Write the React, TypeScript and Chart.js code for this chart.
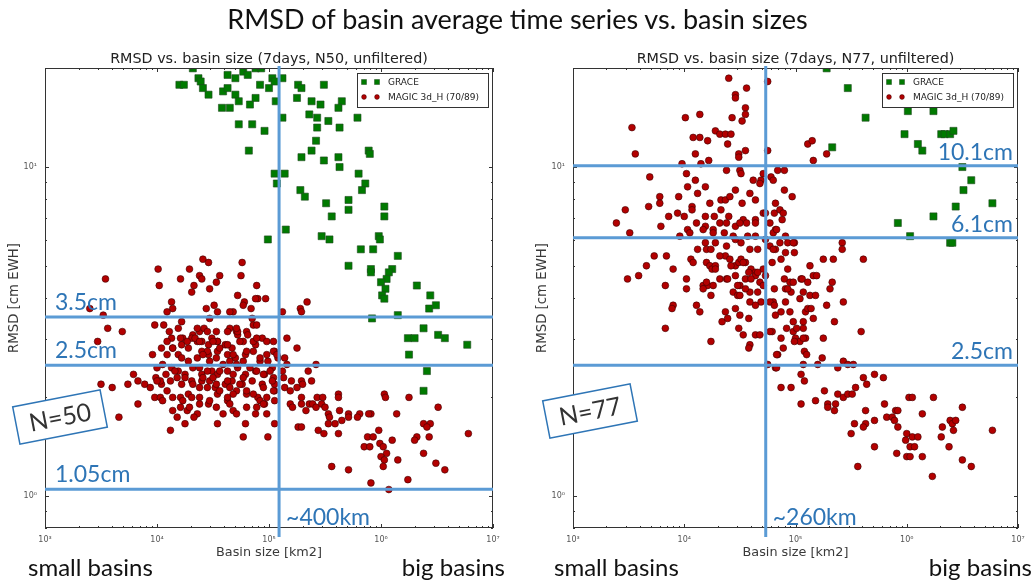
import React, { useEffect, useRef } from "react";
import { Chart, registerables } from "chart.js";

Chart.register(...registerables);

// ---------------- text ----------------
const mainTitle = "RMSD of basin average time series vs. basin sizes";
const xAxisTitle = "Basin size [km2]";
const yAxisTitle = "RMSD [cm EWH]";
const legendLabels = ["GRACE", "MAGIC 3d_H (70/89)"];
const bottomLabels = ["small basins", "big basins"];

// ---------------- axes ----------------
const xRange = [1e3, 1e7];
const yRange = [0.8, 20];

// ---------------- left panel (N50) ----------------
const leftTitle = "RMSD vs. basin size (7days, N50, unfiltered)";
const leftThresholds = [3.5, 2.5, 1.05];
const leftThresholdLabels = ["3.5cm", "2.5cm", "1.05cm"];
const leftSizeLine = 1.23e5;
const leftSizeLabel = "~400km";
const leftNLabel = "N=50";

// points as [log10(basin size km2), log10(RMSD cm)]
const leftGraceLog = [
  [4.20,1.25],[4.24,1.25],[4.37,1.27],[4.39,1.26],[4.41,1.24],[4.46,1.22],[4.63,1.28],[4.70,1.27],[4.77,1.29],[4.81,1.28],
  [4.88,1.30],[4.93,1.30],[4.59,1.23],[4.63,1.24],[4.70,1.22],[4.73,1.20],[4.58,1.18],[4.65,1.18],[4.73,1.13],[4.85,1.13],
  [4.83,1.19],[4.88,1.21],[4.92,1.25],[5.00,1.24],[5.03,1.27],[5.05,1.26],[5.12,1.27],[5.06,1.20],[4.96,1.11],[5.12,1.15],
  [4.82,1.05],[5.05,0.98],[5.14,0.98],[5.07,0.95],[5.15,0.81],[4.99,0.78],[5.26,1.25],[5.29,1.24],[5.49,1.25],[5.25,1.21],
  [5.38,1.20],[5.46,1.19],[5.65,1.20],[5.62,1.18],[5.36,1.16],[5.43,1.15],[5.53,1.14],[5.43,1.12],[5.63,1.12],[5.42,1.08],
  [5.38,1.05],[5.29,1.03],[5.49,1.02],[5.62,1.03],[5.63,1.00],[5.28,0.93],[5.32,0.91],[5.51,0.89],[5.71,0.90],[5.71,0.87],
  [5.56,0.85],[5.47,0.79],[5.54,0.78],[5.71,0.70],[5.79,1.15],[5.89,1.05],[5.90,1.04],[5.80,0.98],[5.86,0.95],[5.83,0.93],
  [6.03,0.88],[6.03,0.85],[5.98,0.79],[5.99,0.78],[5.93,0.75],[5.82,0.75],[6.15,0.73],[5.91,0.69],[5.91,0.68],[6.10,0.69],
  [6.07,0.68],[6.05,0.66],[6.00,0.65],[6.04,0.63],[6.01,0.61],[6.03,0.60],[6.32,0.64],[6.44,0.61],[6.43,0.57],[6.49,0.58],
  [6.15,0.55],[5.92,0.54],[6.24,0.48],[6.30,0.48],[6.38,0.51],[6.51,0.49],[6.57,0.48],[6.25,0.43],[6.77,0.46],[6.41,0.38],
  [6.38,0.32],[4.32,1.30],[4.89,1.31],[4.68,1.31],
];

const leftMagicLog = [
  [4.41,0.72],[4.46,0.71],[4.76,0.71],[3.54,0.66],[4.01,0.69],[4.29,0.69],[4.38,0.67],[4.40,0.66],[4.56,0.67],[4.75,0.67],
  [4.21,0.66],[4.53,0.65],[4.02,0.64],[4.33,0.64],[4.31,0.62],[4.47,0.63],[4.89,0.64],[4.72,0.61],[4.90,0.60],[4.97,0.60],
  [4.88,0.60],[4.78,0.59],[4.51,0.58],[4.13,0.59],[4.14,0.57],[4.09,0.56],[4.44,0.57],[4.54,0.56],[4.47,0.54],[4.68,0.56],
  [4.65,0.56],[4.84,0.57],[4.85,0.54],[4.22,0.53],[3.40,0.57],[3.52,0.55],[3.56,0.51],[3.69,0.50],[3.47,0.47],[3.98,0.52],
  [4.06,0.52],[4.19,0.51],[4.11,0.50],[4.13,0.48],[4.23,0.48],[4.32,0.49],[4.38,0.50],[4.42,0.51],[4.49,0.48],[4.54,0.47],
  [4.65,0.51],[4.71,0.50],[4.80,0.50],[4.86,0.52],[4.89,0.52],[4.94,0.48],[3.96,0.43],[4.04,0.45],[4.09,0.47],[4.14,0.45],
  [4.22,0.46],[4.31,0.48],[4.36,0.47],[4.40,0.47],[4.46,0.46],[4.54,0.47],[4.61,0.46],[4.67,0.45],[4.72,0.49],[4.77,0.47],
  [4.81,0.49],[4.88,0.46],[5.05,0.44],[5.08,0.42],[4.99,0.41],[4.19,0.43],[4.28,0.41],[4.36,0.42],[4.40,0.44],[4.46,0.43],
  [4.54,0.44],[4.63,0.43],[4.70,0.42],[4.79,0.43],[4.86,0.44],[4.92,0.41],[4.13,0.39],[4.19,0.38],[4.25,0.37],[4.32,0.39],
  [4.40,0.37],[4.49,0.38],[4.54,0.37],[4.63,0.38],[4.72,0.39],[4.79,0.37],[4.88,0.38],[4.96,0.37],[5.04,0.36],[3.79,0.37],
  [3.83,0.35],[3.89,0.34],[3.74,0.34],[3.50,0.34],[3.60,0.33],[3.99,0.36],[4.04,0.34],[4.08,0.37],[4.18,0.36],[4.22,0.34],
  [4.31,0.35],[4.40,0.35],[4.47,0.35],[4.52,0.33],[4.61,0.34],[4.67,0.35],[4.76,0.34],[4.85,0.35],[4.94,0.34],[5.05,0.34],
  [3.98,0.30],[4.03,0.30],[4.21,0.30],[4.28,0.31],[4.38,0.30],[4.46,0.28],[4.54,0.31],[4.63,0.29],[4.71,0.32],[4.80,0.31],
  [4.90,0.30],[4.96,0.28],[5.05,0.32],[3.83,0.28],[4.14,0.26],[4.18,0.24],[4.27,0.26],[4.36,0.25],[4.25,0.22],[4.33,0.24],
  [4.54,0.22],[4.59,0.25],[4.68,0.26],[4.79,0.22],[4.88,0.25],[4.98,0.25],[5.05,0.22],[3.66,0.24],[4.12,0.20],[4.77,0.18],
  [4.99,0.18],[5.34,0.59],[4.77,0.58],[5.28,0.57],
  [5.12,0.56],[5.29,0.56],[5.16,0.48],[5.25,0.45],[5.04,0.44],[5.07,0.43],[5.14,0.42],[5.16,0.40],[5.03,0.39],[5.12,0.38],
  [5.42,0.40],[5.35,0.38],[5.13,0.36],[5.20,0.35],[5.29,0.35],[5.30,0.34],[5.38,0.35],[5.25,0.33],[5.14,0.33],[5.19,0.32],
  [5.29,0.30],[5.43,0.30],[5.48,0.30],[5.62,0.31],[5.62,0.30],[5.05,0.29],[5.19,0.28],[5.29,0.28],[5.36,0.28],[5.39,0.28],
  [5.47,0.28],[5.21,0.27],[5.33,0.26],[5.42,0.27],[5.50,0.27],[5.53,0.25],[5.63,0.26],[5.71,0.25],[5.81,0.25],[5.91,0.25],
  [5.54,0.24],[5.71,0.24],[5.79,0.24],[5.89,0.25],[5.65,0.23],[5.59,0.22],[5.53,0.22],[5.26,0.21],[5.29,0.21],[5.44,0.20],
  [5.49,0.19],[5.62,0.19],[6.03,0.31],[6.04,0.30],[6.25,0.30],[6.51,0.27],[6.14,0.25],[6.38,0.22],[6.44,0.22],[6.41,0.21],
  [6.78,0.19],[5.88,0.18],[5.93,0.18],[5.98,0.20],[6.10,0.17],[6.32,0.18],[6.43,0.18],[6.30,0.17],[5.99,0.16],[5.85,0.15],
  [5.90,0.15],[6.02,0.15],[6.05,0.13],[6.38,0.13],[6.00,0.12],[6.03,0.11],[6.15,0.11],[6.02,0.09],[6.49,0.10],[6.57,0.08],
  [5.56,0.09],[5.71,0.08],[5.91,0.04],[6.24,0.05],[6.07,0.02],
  [4.34,0.48],[4.38,0.47],[4.45,0.44],[4.50,0.47],[4.56,0.45],[4.63,0.46],[4.68,0.43],[4.72,0.50],[4.74,0.47],[4.80,0.44],
  [4.86,0.47],[4.92,0.42],[4.98,0.43],[4.38,0.39],[4.45,0.38],[4.50,0.36],[4.56,0.38],[4.63,0.35],[4.68,0.37],[4.74,0.34],
  [4.80,0.32],[4.86,0.31],[4.92,0.29],[4.98,0.30],[5.04,0.32],[4.47,0.29],[4.53,0.27],[4.65,0.28],[4.71,0.25],[4.80,0.27],
  [4.89,0.27],[4.95,0.28],[4.25,0.36],[4.16,0.38],[4.12,0.35],[4.09,0.32],[4.03,0.35],[4.28,0.45],[4.22,0.42],[4.41,0.43],
  [4.47,0.41],[4.53,0.42],[4.59,0.40],[4.65,0.41],[4.71,0.40],[4.77,0.41],[4.83,0.39],[4.89,0.38],[4.95,0.37],[5.01,0.38],
  [4.32,0.34],[4.38,0.33],[4.45,0.33],[4.56,0.32],[4.68,0.31],[4.63,0.30],[4.41,0.36],[4.53,0.34],[4.65,0.33],[4.77,0.36],
  [4.95,0.33],[5.03,0.35],[4.31,0.30],[4.23,0.29],[4.38,0.28],[4.29,0.27],[4.21,0.27],[4.14,0.30],[4.05,0.29],[4.00,0.35],
  [3.94,0.33],[4.27,0.47],[4.21,0.48],[4.14,0.45],[4.09,0.43],[4.05,0.40],[4.00,0.39],[4.36,0.51],[4.45,0.50],[4.53,0.50],
  [4.63,0.50],[4.71,0.51],[4.89,0.48],[4.98,0.47],[5.04,0.47],
];

// ---------------- right panel (N77) ----------------
const rightTitle = "RMSD vs. basin size (7days, N77, unfiltered)";
const rightThresholds = [10.1, 6.1, 2.5];
const rightThresholdLabels = ["10.1cm", "6.1cm", "2.5cm"];
const rightSizeLine = 5.4e4;
const rightSizeLabel = "~260km";
const rightNLabel = "N=77";

const rightGraceLog = [
  [5.28,1.30],[5.47,1.24],[5.63,1.15],[6.01,1.17],[6.24,1.17],[5.98,1.10],[6.10,1.07],[6.14,1.05],[5.33,1.06],[6.31,1.10],
  [6.34,1.10],[6.39,1.10],[6.42,1.11],[6.50,1.00],[6.51,0.93],[6.58,0.96],[6.77,0.89],[6.44,0.88],[6.24,0.85],[5.92,0.83],
  [6.03,0.79],[6.39,0.77],[6.41,0.77],
];

const rightMagicLog = [
  [4.40,1.27],[4.56,1.24],[4.46,1.22],[4.46,1.21],[4.55,1.18],[4.55,1.16],[4.43,1.15],[4.52,1.14],[4.01,1.15],[4.14,1.16],
  [3.53,1.12],[4.28,1.11],[4.32,1.10],[4.37,1.10],[4.42,1.10],[4.08,1.09],[4.14,1.09],[4.21,1.08],[4.39,1.07],[4.55,1.05],
  [4.49,1.04],[4.49,1.03],[4.10,1.04],[4.22,1.02],[3.56,1.04],[3.98,1.01],[4.15,1.01],[4.75,1.26],[4.75,1.05],[3.69,0.97],
  [4.38,0.99],[4.50,0.99],[4.51,0.98],[4.02,0.98],[4.84,0.99],[4.90,0.99],[4.10,0.96],[4.03,0.94],[4.71,0.98],[4.69,0.96],
  [4.68,0.95],[4.78,0.97],[4.80,0.96],[4.62,0.96],[4.19,0.94],[4.46,0.93],[4.12,0.92],[4.59,0.92],[3.78,0.91],[3.78,0.89],
  [3.95,0.91],[4.23,0.89],[4.33,0.90],[4.37,0.90],[4.41,0.91],[4.52,0.89],[4.64,0.90],[4.82,0.89],[4.90,0.93],[4.97,0.91],
  [3.47,0.87],[3.68,0.88],[4.07,0.88],[4.07,0.87],[4.19,0.85],[4.27,0.85],[4.33,0.87],[4.40,0.85],[4.53,0.84],[4.56,0.83],
  [4.64,0.84],[4.71,0.86],[4.73,0.86],[4.81,0.86],[4.86,0.87],[4.89,0.86],[3.39,0.83],[3.86,0.85],[3.94,0.86],[4.00,0.85],
  [3.79,0.82],[4.11,0.83],[4.19,0.82],[4.26,0.81],[4.32,0.83],[4.38,0.83],[4.46,0.82],[4.50,0.83],[4.64,0.83],[4.77,0.83],
  [4.82,0.81],[3.51,0.80],[4.03,0.81],[4.05,0.80],[4.17,0.81],[4.26,0.80],[4.36,0.80],[4.44,0.79],[4.57,0.79],[4.64,0.79],
  [4.73,0.78],[4.80,0.80],[4.86,0.77],[4.91,0.79],[4.93,0.77],[4.99,0.77],[3.96,0.79],[4.12,0.75],[4.20,0.75],[4.28,0.77],
  [4.38,0.76],[4.46,0.78],[4.51,0.77],[4.59,0.75],[4.66,0.75],[4.77,0.76],[4.82,0.75],[4.91,0.74],[4.99,0.74],[3.73,0.73],
  [3.84,0.73],[4.06,0.72],[4.08,0.71],[4.20,0.71],[4.23,0.70],[4.25,0.69],[4.28,0.70],[4.37,0.73],[4.41,0.72],[4.46,0.70],
  [4.49,0.71],[4.51,0.72],[4.55,0.71],[4.60,0.69],[4.64,0.68],[4.71,0.69],[4.79,0.71],[4.87,0.72],[4.93,0.69],[3.66,0.70],
  [3.90,0.69],[3.49,0.66],[3.59,0.67],[3.83,0.64],[4.02,0.66],[4.02,0.63],[4.17,0.64],[4.21,0.64],[4.26,0.64],[4.32,0.66],
  [4.38,0.66],[4.46,0.67],[4.50,0.64],[4.55,0.66],[4.64,0.67],[4.68,0.65],[4.73,0.67],[4.81,0.63],[4.90,0.66],[4.95,0.65],
  [4.24,0.61],[4.44,0.62],[4.48,0.61],[4.59,0.62],[4.66,0.62],[4.69,0.59],[4.80,0.59],[3.90,0.58],[4.11,0.58],[4.96,0.62],
  [5.11,1.07],[5.15,1.08],[5.28,1.04],[5.16,1.02],[4.88,0.84],[4.83,0.81],[4.98,0.77],[4.80,0.75],[5.42,0.77],[5.42,0.75],
  [5.25,0.72],[5.34,0.72],[5.61,0.72],[5.13,0.70],
  [3.89,0.57],[4.14,0.56],[3.83,0.51],[4.24,0.47],[4.37,0.56],[4.34,0.53],[4.39,0.54],[4.46,0.57],[4.50,0.55],[4.49,0.51],
  [4.53,0.49],[4.59,0.46],[4.58,0.45],[4.64,0.49],[4.68,0.49],[4.58,0.54],[4.64,0.58],[4.59,0.59],[4.71,0.64],[4.77,0.59],
  [4.81,0.58],[4.82,0.55],[4.87,0.56],[4.79,0.50],[4.77,0.50],[4.87,0.48],[4.89,0.45],[4.84,0.43],[4.98,0.50],[5.00,0.48],
  [5.04,0.47],[5.07,0.51],[5.09,0.48],[5.08,0.44],[5.07,0.53],[4.98,0.53],[4.95,0.56],[4.91,0.59],[4.91,0.63],[4.98,0.65],
  [5.05,0.66],[5.07,0.62],[5.09,0.56],[4.75,0.40],[4.82,0.39],[5.07,0.40],[5.05,0.37],[5.08,0.35],[4.87,0.33],[4.96,0.33],
  [5.05,0.28],
  [4.19,0.77],[4.24,0.75],[4.32,0.73],[4.28,0.69],[4.17,0.63],[4.20,0.65],[4.39,0.66],[4.48,0.64],[4.50,0.61],[4.55,0.63],
  [4.60,0.66],[4.66,0.68],[4.42,0.70],[4.53,0.71],[4.58,0.68],
  [5.16,0.67],[5.19,0.67],[5.06,0.66],[5.11,0.65],[5.33,0.65],[4.93,0.63],[5.13,0.61],[5.18,0.61],[5.31,0.63],[5.04,0.60],
  [5.43,0.59],[5.11,0.57],[5.14,0.57],[5.28,0.58],[5.16,0.54],[5.35,0.53],[4.92,0.51],[5.01,0.51],[5.07,0.48],[4.99,0.47],
  [5.25,0.48],[5.59,0.50],[4.83,0.43],[5.10,0.43],[5.24,0.42],[4.83,0.39],[5.20,0.40],[5.43,0.41],[5.47,0.40],[5.52,0.40],
  [5.38,0.39],[5.61,0.36],[5.64,0.34],[5.71,0.37],[5.79,0.36],[5.26,0.32],[5.38,0.31],[5.43,0.30],[5.47,0.31],[5.51,0.31],
  [5.54,0.33],[5.18,0.29],[5.29,0.28],[5.29,0.27],[5.36,0.28],[5.35,0.26],[5.63,0.26],[5.80,0.28],[6.02,0.30],[6.05,0.30],
  [6.24,0.30],[6.14,0.25],[5.90,0.26],[5.92,0.26],[5.82,0.24],[5.87,0.24],[5.89,0.23],[5.71,0.23],[5.53,0.22],[5.63,0.22],
  [5.61,0.21],[5.50,0.19],[5.92,0.21],[6.00,0.19],[5.99,0.17],[6.05,0.18],[6.10,0.18],[6.03,0.15],[6.07,0.15],[5.71,0.15],
  [5.91,0.13],[6.00,0.12],[6.03,0.12],[6.14,0.12],[6.31,0.18],[6.32,0.21],[6.38,0.15],[6.39,0.23],[6.41,0.22],[6.44,0.23],
  [6.42,0.20],[6.50,0.27],[6.77,0.20],[6.50,0.11],[6.58,0.09],[6.23,0.06],[5.56,0.09],
];

// ---------------- styles ----------------
const MPL_FONT = '"DejaVu Sans", "Liberation Sans", sans-serif';
const PPT_FONT = 'Lato, "Open Sans", sans-serif';
const GRACE_FILL = "#007a00";
const GRACE_EDGE = "#1f4a1f";
const MAGIC_FILL = "#b30000";
const MAGIC_EDGE = "#3d0000";
const LINE_BLUE = "#5b9bd5";
const TEXT_BLUE = "#2e75b6";
const SUP = ["⁰", "¹", "²", "³", "⁴", "⁵", "⁶", "⁷", "⁸", "⁹"];

type Panel = {
  title: string;
  grace: number[][];
  magic: number[][];
  thresholds: number[];
  thresholdLabels: string[];
  labelSide: "left" | "right";
  sizeLine: number;
  sizeLabel: string;
  nLabel: string;
  canvasWidth: number;
  axisWidth: number;
  padRight: number;
  nBox: [number, number];
  smallOffset: number;
  bigOffset: number;
};

const panels: Panel[] = [
  {
    title: leftTitle, grace: leftGraceLog, magic: leftMagicLog,
    thresholds: leftThresholds, thresholdLabels: leftThresholdLabels, labelSide: "left",
    sizeLine: leftSizeLine, sizeLabel: leftSizeLabel, nLabel: leftNLabel,
    canvasWidth: 515, axisWidth: 45, padRight: 22, nBox: [60, 417], smallOffset: -17, bigOffset: 12,
  },
  {
    title: rightTitle, grace: rightGraceLog, magic: rightMagicLog,
    thresholds: rightThresholds, thresholdLabels: rightThresholdLabels, labelSide: "right",
    sizeLine: rightSizeLine, sizeLabel: rightSizeLabel, nLabel: rightNLabel,
    canvasWidth: 520, axisWidth: 58, padRight: 17, nBox: [75, 411], smallOffset: -19, bigOffset: 14,
  },
];

function decadeLabel(v: number): string {
  const e = Math.log10(v);
  const r = Math.round(e);
  if (Math.abs(e - r) > 1e-6) return "";
  return "10" + String(r).split("").map((c) => (c === "-" ? "⁻" : SUP[Number(c)])).join("");
}

function fitSize(ctx: CanvasRenderingContext2D, text: string, family: string, width: number) {
  ctx.font = `100px ${family}`;
  return (100 * width) / ctx.measureText(text).width;
}

function overlayPlugin(p: Panel) {
  return {
    id: "overlay",
    afterDraw(chart: any) {
      const ctx: CanvasRenderingContext2D = chart.ctx;
      const a = chart.chartArea;
      const xs = chart.scales.x;
      const ys = chart.scales.y;
      ctx.save();

      // frame
      ctx.strokeStyle = "#333";
      ctx.lineWidth = 1;
      ctx.strokeRect(Math.round(a.left) + 0.5, Math.round(a.top) + 0.5, Math.round(a.right - a.left) - 1, Math.round(a.bottom - a.top) - 1);

      // inward ticks on all sides
      ctx.beginPath();
      for (let e = 3; e <= 7; e++) {
        for (let k = 1; k <= 9; k++) {
          const v = k * 10 ** e;
          if (v > xRange[1] * 1.0001) break;
          const px = Math.round(xs.getPixelForValue(v)) + 0.5;
          const len = k === 1 ? 4 : 2;
          ctx.moveTo(px, a.bottom);
          ctx.lineTo(px, a.bottom - len);
          ctx.moveTo(px, a.top);
          ctx.lineTo(px, a.top + len);
        }
      }
      for (let e = -1; e <= 1; e++) {
        for (let k = 1; k <= 9; k++) {
          const v = k * 10 ** e;
          if (v < yRange[0] - 1e-9 || v > yRange[1] + 1e-9) continue;
          const py = Math.round(ys.getPixelForValue(v)) + 0.5;
          const len = k === 1 ? 4 : 2;
          ctx.moveTo(a.left, py);
          ctx.lineTo(a.left + len, py);
          ctx.moveTo(a.right, py);
          ctx.lineTo(a.right - len, py);
        }
      }
      ctx.stroke();

      // legend
      const lw = 131, lh = 34;
      const lx = Math.round(a.right - 5 - lw), ly = Math.round(a.top + 5);
      ctx.fillStyle = "#fff";
      ctx.fillRect(lx, ly, lw, lh);
      ctx.strokeStyle = "#333";
      ctx.strokeRect(lx + 0.5, ly + 0.5, lw, lh);
      ctx.font = `9px ${MPL_FONT}`;
      ctx.textBaseline = "middle";
      ctx.textAlign = "left";
      [0, 1].forEach((i) => {
        const yy = ly + 9 + i * 15;
        [7, 20].forEach((dx) => {
          ctx.beginPath();
          if (i === 0) {
            ctx.rect(lx + dx - 2.5, yy - 2.5, 5, 5);
            ctx.fillStyle = GRACE_FILL;
            ctx.strokeStyle = GRACE_EDGE;
          } else {
            ctx.arc(lx + dx, yy, 2.4, 0, Math.PI * 2);
            ctx.fillStyle = MAGIC_FILL;
            ctx.strokeStyle = MAGIC_EDGE;
          }
          ctx.lineWidth = 0.5;
          ctx.fill();
          ctx.stroke();
        });
        ctx.fillStyle = "#222";
        ctx.fillText(legendLabels[i], lx + 31, yy + 0.5);
      });

      // subplot title & axis titles
      ctx.fillStyle = "#222";
      ctx.textAlign = "center";
      ctx.textBaseline = "middle";
      const cx = (a.left + a.right) / 2;
      const ts = fitSize(ctx, p.title, MPL_FONT, 318);
      ctx.font = `${ts}px ${MPL_FONT}`;
      ctx.fillText(p.title, cx, 59);
      ctx.fillStyle = "#3a3a3a";
      const xsz = fitSize(ctx, xAxisTitle, MPL_FONT, 106);
      ctx.font = `${xsz}px ${MPL_FONT}`;
      ctx.fillText(xAxisTitle, cx, 553);
      const ysz = fitSize(ctx, yAxisTitle, MPL_FONT, 110);
      ctx.save();
      ctx.translate(a.left - 30, (a.top + a.bottom) / 2);
      ctx.rotate(-Math.PI / 2);
      ctx.font = `${ysz}px ${MPL_FONT}`;
      ctx.fillText(yAxisTitle, 0, 0);
      ctx.restore();

      // annotation lines
      ctx.strokeStyle = LINE_BLUE;
      ctx.lineWidth = 3;
      ctx.beginPath();
      p.thresholds.forEach((t) => {
        const py = ys.getPixelForValue(t);
        ctx.moveTo(a.left, py);
        ctx.lineTo(a.right, py);
      });
      const vx = xs.getPixelForValue(p.sizeLine);
      ctx.moveTo(vx, a.top - 2);
      ctx.lineTo(vx, a.bottom + 9);
      ctx.stroke();

      // annotation labels
      ctx.fillStyle = TEXT_BLUE;
      ctx.font = `23px ${PPT_FONT}`;
      ctx.textBaseline = "alphabetic";
      p.thresholds.forEach((t, i) => {
        const py = ys.getPixelForValue(t);
        if (p.labelSide === "left") {
          ctx.textAlign = "left";
          ctx.fillText(p.thresholdLabels[i], a.left + 10, py - 7);
        } else {
          ctx.textAlign = "right";
          ctx.fillText(p.thresholdLabels[i], a.right - 5, py - 6);
        }
      });
      ctx.textAlign = "left";
      ctx.fillText(p.sizeLabel, vx + 7, a.bottom - 3);

      // N box
      ctx.save();
      ctx.translate(p.nBox[0], p.nBox[1]);
      ctx.rotate((-11 * Math.PI) / 180);
      ctx.fillStyle = "#fff";
      ctx.fillRect(-44.5, -19, 89, 38);
      ctx.strokeStyle = TEXT_BLUE;
      ctx.lineWidth = 1.5;
      ctx.strokeRect(-44.5, -19, 89, 38);
      ctx.fillStyle = "#333";
      ctx.font = `25px ${PPT_FONT}`;
      ctx.textAlign = "center";
      ctx.textBaseline = "middle";
      ctx.fillText(p.nLabel, 0, 1);
      ctx.restore();

      // small / big basins
      ctx.fillStyle = "#111";
      ctx.font = `24px ${PPT_FONT}`;
      ctx.textBaseline = "alphabetic";
      ctx.textAlign = "left";
      ctx.fillText(bottomLabels[0], a.left + p.smallOffset, 576);
      ctx.textAlign = "right";
      ctx.fillText(bottomLabels[1], a.right + p.bigOffset, 576);

      ctx.restore();
    },
  };
}

function PanelChart({ panel, left }: { panel: Panel; left: number }) {
  const ref = useRef<HTMLCanvasElement>(null);
  useEffect(() => {
    const canvas = ref.current;
    if (!canvas) return;
    const toPts = (arr: number[][]) => arr.map(([a, b]) => ({ x: 10 ** a, y: 10 ** b }));
    const tickFont = { family: MPL_FONT, size: 8 };
    const chart = new Chart(canvas, {
      type: "scatter",
      data: {
        datasets: [
          {
            label: legendLabels[1],
            data: toPts(panel.magic),
            pointStyle: "circle",
            pointRadius: 3.4,
            backgroundColor: MAGIC_FILL,
            borderColor: MAGIC_EDGE,
            borderWidth: 0.6,
          },
          {
            label: legendLabels[0],
            data: toPts(panel.grace),
            pointStyle: "rect",
            pointRadius: 5,
            backgroundColor: GRACE_FILL,
            borderColor: GRACE_EDGE,
            borderWidth: 0.6,
          },
        ],
      },
      options: {
        responsive: false,
        animation: false,
        devicePixelRatio: 1,
        events: [],
        layout: { padding: { left: 0, right: panel.padRight, top: 68, bottom: 0 } },
        plugins: { legend: { display: false }, tooltip: { enabled: false }, title: { display: false } },
        scales: {
          x: {
            type: "logarithmic",
            min: xRange[0],
            max: xRange[1],
            grid: { display: false, drawTicks: false },
            border: { display: false },
            ticks: {
              autoSkip: false,
              maxRotation: 0,
              padding: 7,
              color: "#555",
              font: tickFont,
              callback: (v: any) => decadeLabel(Number(v)),
            },
            afterFit: (s: any) => {
              s.height = 53;
            },
          },
          y: {
            type: "logarithmic",
            min: yRange[0],
            max: yRange[1],
            grid: { display: false, drawTicks: false },
            border: { display: false },
            ticks: {
              autoSkip: false,
              padding: 8,
              color: "#555",
              font: tickFont,
              callback: (v: any) => decadeLabel(Number(v)),
            },
            afterFit: (s: any) => {
              s.width = panel.axisWidth;
            },
          },
        },
      } as any,
      plugins: [overlayPlugin(panel)],
    });
    return () => chart.destroy();
  }, [panel]);
  return (
    <canvas
      ref={ref}
      width={panel.canvasWidth}
      height={581}
      style={{ position: "absolute", left, top: 0, width: panel.canvasWidth, height: 581 }}
    />
  );
}

export default function App() {
  return (
    <div style={{ position: "fixed", left: 0, top: 0, width: 1035, height: 581, background: "#fff", overflow: "hidden" }}>
      <PanelChart panel={panels[0]} left={0} />
      <PanelChart panel={panels[1]} left={515} />
      <div
        style={{
          position: "absolute",
          left: 0,
          top: 2,
          width: 1035,
          textAlign: "center",
          fontFamily: PPT_FONT,
          fontSize: 27,
          lineHeight: "34px",
          color: "#111",
          whiteSpace: "nowrap",
        }}
      >
        {mainTitle}
      </div>
    </div>
  );
}
